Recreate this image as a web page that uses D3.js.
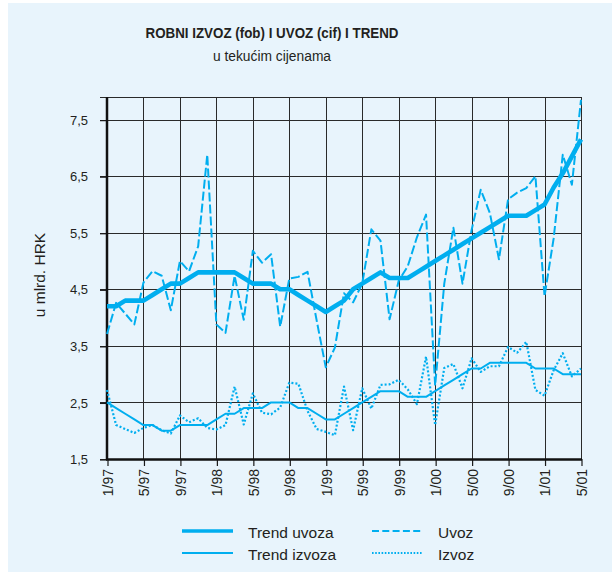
<!DOCTYPE html>
<html>
<head>
<meta charset="utf-8">
<script src="https://cdn.jsdelivr.net/npm/d3@7"></script>
<style>
    body { margin: 0; background: #fff; }
    text { font-family: "Liberation Sans", Arial, sans-serif; fill: #231f20; }
    .grid line { stroke: #2a2a2a; stroke-width: 1; }
    .axis path { display: none; }
    .axis line { stroke: #1a1a1a; stroke-width: 1.2; }
    .axis text { font-size: 13px; }
    .xaxis text { font-size: 14px; }
</style>
</head>
<body>
<script>
//monthly categories, 1/97 - 5/01
var months = ["1/97","2/97","3/97","4/97","5/97","6/97","7/97","8/97","9/97","10/97","11/97","12/97",
              "1/98","2/98","3/98","4/98","5/98","6/98","7/98","8/98","9/98","10/98","11/98","12/98",
              "1/99","2/99","3/99","4/99","5/99","6/99","7/99","8/99","9/99","10/99","11/99","12/99",
              "1/00","2/00","3/00","4/00","5/00","6/00","7/00","8/00","9/00","10/00","11/00","12/00",
              "1/01","2/01","3/01","4/01","5/01"];

//labelled months on the x axis
var tickLabels = ["1/97","5/97","9/97","1/98","5/98","9/98","1/99","5/99","9/99","1/00","5/00","9/00","1/01","5/01"];

//y axis ticks (mlrd. HRK)
var yTicks = [1.5, 2.5, 3.5, 4.5, 5.5, 6.5, 7.5];

//series values
var uvoz = [3.71, 4.26, 4.07, 3.88, 4.62, 4.82, 4.74, 4.13, 5.0, 4.82, 5.26, 6.88,
            3.88, 3.73, 4.74, 3.96, 5.18, 4.97, 5.12, 3.84, 4.69, 4.72, 4.81, 3.95,
            3.12, 3.47, 4.43, 4.27, 4.6, 5.56, 5.36, 3.97, 4.65, 4.91, 5.42, 5.82,
            2.8, 4.6, 5.59, 4.6, 5.55, 6.26, 5.85, 5.03, 6.09, 6.21, 6.29, 6.5,
            4.38, 5.4, 6.88, 6.35, 7.85];

var izvoz = [2.72, 2.1, 2.03, 1.96, 2.05, 2.1, 2.01, 1.95, 2.27, 2.15, 2.22, 2.05,
             2.02, 2.1, 2.78, 2.11, 2.66, 2.32, 2.29, 2.41, 2.85, 2.83, 2.35, 2.03,
             1.98, 1.92, 2.78, 2.01, 2.75, 2.39, 2.81, 2.82, 2.9, 2.73, 2.47, 3.31,
             2.1, 3.11, 3.18, 2.75, 3.28, 3.04, 3.14, 3.14, 3.48, 3.38, 3.57, 2.72,
             2.62, 3.07, 3.37, 2.96, 3.1];

var trendUvoza = [4.2, 4.2, 4.3, 4.3, 4.3, 4.4, 4.5, 4.6, 4.6, 4.7, 4.8, 4.8,
                  4.8, 4.8, 4.8, 4.7, 4.6, 4.6, 4.6, 4.5, 4.5, 4.4, 4.3, 4.2,
                  4.1, 4.2, 4.3, 4.5, 4.6, 4.7, 4.8, 4.7, 4.7, 4.7, 4.8, 4.9,
                  5.0, 5.1, 5.2, 5.3, 5.4, 5.5, 5.6, 5.7, 5.8, 5.8, 5.8, 5.9,
                  6.0, 6.3, 6.55, 6.85, 7.15];

var trendIzvoza = [2.5, 2.4, 2.3, 2.2, 2.1, 2.1, 2.0, 2.0, 2.1, 2.1, 2.1, 2.1,
                   2.2, 2.3, 2.3, 2.4, 2.4, 2.4, 2.5, 2.5, 2.5, 2.4, 2.4, 2.3,
                   2.2, 2.2, 2.3, 2.4, 2.5, 2.6, 2.7, 2.7, 2.7, 2.6, 2.6, 2.6,
                   2.7, 2.8, 2.9, 3.0, 3.1, 3.1, 3.2, 3.2, 3.2, 3.2, 3.2, 3.1,
                   3.1, 3.1, 3.0, 3.0, 3.0];

(function(){

    var width = 612,
        height = 572,
        left = 107,
        right = 581,
        top = 97,
        bottom = 459,
        blue = "#00aeef";

    var svg = d3.select("body")
        .append("svg")
        .attr("width", width)
        .attr("height", height);

    //light blue panel
    svg.append("rect")
        .attr("x", 8)
        .attr("y", 3)
        .attr("width", width - 8)
        .attr("height", height - 3)
        .attr("fill", "#e8f4fc");

    //titles
    svg.append("text")
        .attr("x", 272)
        .attr("y", 38)
        .attr("text-anchor", "middle")
        .attr("font-size", 14.5)
        .attr("font-weight", "bold")
        .attr("textLength", 253)
        .attr("lengthAdjust", "spacingAndGlyphs")
        .text("ROBNI IZVOZ (fob) I UVOZ (cif) I TREND");

    svg.append("text")
        .attr("x", 272)
        .attr("y", 61)
        .attr("text-anchor", "middle")
        .attr("font-size", 13.8)
        .text("u tekućim cijenama");

    //scales
    var xScale = d3.scaleLinear()
        .domain([0, months.length - 1])
        .range([left, right]);

    var yScale = d3.scaleLinear()
        .domain([1.5, 7.9])
        .range([bottom, top]);

    var tickIdx = tickLabels.map(function(l){ return months.indexOf(l); });

    //grid lines
    var grid = svg.append("g").attr("class", "grid");
    grid.selectAll(".h")
        .data(yTicks.concat([7.9]))
        .enter()
        .append("line")
        .attr("x1", left - 7)
        .attr("x2", right)
        .attr("y1", function(d){ return Math.round(yScale(d)) + 0.5; })
        .attr("y2", function(d){ return Math.round(yScale(d)) + 0.5; });
    grid.selectAll(".v")
        .data(tickIdx)
        .enter()
        .append("line")
        .attr("x1", function(d){ return Math.round(xScale(d)) + 0.5; })
        .attr("x2", function(d){ return Math.round(xScale(d)) + 0.5; })
        .attr("y1", top)
        .attr("y2", bottom);

    //y axis
    var yAxis = d3.axisLeft(yScale)
        .tickValues(yTicks)
        .tickSize(7)
        .tickPadding(12)
        .tickFormat(function(d){ return String(d).replace(".", ","); });

    svg.append("g")
        .attr("class", "axis")
        .attr("transform", "translate(" + left + ",0.5)")
        .call(yAxis);

    //x axis
    var xAxis = d3.axisBottom(xScale)
        .tickValues(tickIdx)
        .tickSize(7)
        .tickFormat(function(d){ return months[d]; });

    var gx = svg.append("g")
        .attr("class", "axis xaxis")
        .attr("transform", "translate(0.5," + bottom + ")")
        .call(xAxis);

    gx.selectAll("text")
        .attr("text-anchor", "end")
        .attr("transform", "rotate(-90)")
        .attr("x", -10)
        .attr("y", 0)
        .attr("dy", "0.35em");

    //frame: thick left and bottom axis lines
    svg.append("line")
        .attr("x1", left).attr("x2", left)
        .attr("y1", top).attr("y2", bottom + 1)
        .attr("stroke", "#111").attr("stroke-width", 2.5);
    svg.append("line")
        .attr("x1", left - 1).attr("x2", right + 1)
        .attr("y1", bottom + 0.5).attr("y2", bottom + 0.5)
        .attr("stroke", "#111").attr("stroke-width", 2.5);

    //y axis title
    svg.append("text")
        .attr("transform", "translate(45," + 275 + ") rotate(-90)")
        .attr("text-anchor", "middle")
        .attr("font-size", 15.5)
        .text("u mlrd. HRK");

    //series
    var line = d3.line()
        .x(function(d, i){ return xScale(i); })
        .y(function(d){ return yScale(d); });

    var series = [
        {name: "Izvoz", values: izvoz, width: 2.2, dash: "2,2"},
        {name: "Uvoz", values: uvoz, width: 2, dash: "9,3"},
        {name: "Trend izvoza", values: trendIzvoza, width: 2, dash: null},
        {name: "Trend uvoza", values: trendUvoza, width: 4.6, dash: null}
    ];

    svg.selectAll(".series")
        .data(series)
        .enter()
        .append("path")
        .attr("class", "series")
        .attr("fill", "none")
        .attr("stroke", blue)
        .attr("stroke-width", function(d){ return d.width; })
        .attr("stroke-dasharray", function(d){ return d.dash; })
        .attr("stroke-linejoin", "round")
        .attr("d", function(d){ return line(d.values); });

    //legend
    var legend = [
        {name: "Trend uvoza", x: 182, y: 531, width: 3.5, dash: null},
        {name: "Trend izvoza", x: 182, y: 553, width: 2, dash: null},
        {name: "Uvoz", x: 372, y: 531, width: 2, dash: "7,3.3"},
        {name: "Izvoz", x: 372, y: 553, width: 2, dash: "1.6,1.6"}
    ];

    var items = svg.selectAll(".legend")
        .data(legend)
        .enter()
        .append("g")
        .attr("class", "legend")
        .attr("transform", function(d){ return "translate(" + d.x + "," + d.y + ")"; });

    items.append("line")
        .attr("x1", 0).attr("x2", 51)
        .attr("stroke", blue)
        .attr("stroke-width", function(d){ return d.width; })
        .attr("stroke-dasharray", function(d){ return d.dash; });

    items.append("text")
        .attr("x", 66)
        .attr("y", 7)
        .attr("font-size", 15.5)
        .text(function(d){ return d.name; });

})();
</script>
</body>
</html>
